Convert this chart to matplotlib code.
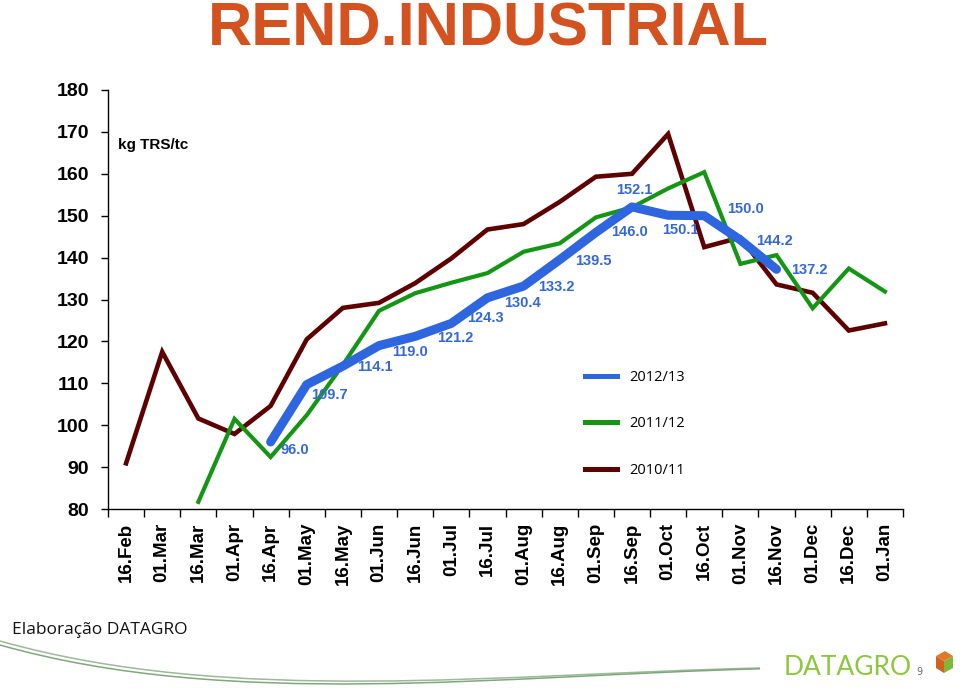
import numpy as np
import matplotlib
matplotlib.use('Agg')
import matplotlib.pyplot as plt
from matplotlib.lines import Line2D
from matplotlib.path import Path
from matplotlib.patches import PathPatch, Polygon

# categories (fortnights of the season)
periods = ['16.Feb', '01.Mar', '16.Mar', '01.Apr', '16.Apr', '01.May', '16.May',
           '01.Jun', '16.Jun', '01.Jul', '16.Jul', '01.Aug', '16.Aug', '01.Sep',
           '16.Sep', '01.Oct', '16.Oct', '01.Nov', '16.Nov', '01.Dec', '16.Dec', '01.Jan']

# 2012/13 starts at 16.Apr
s2012 = [96.0, 109.7, 114.1, 119.0, 121.2, 124.3, 130.4, 133.2, 139.5, 146.0,
         152.1, 150.1, 150.0, 144.2, 137.2]
# 2011/12 starts at 16.Mar
s2011 = [81.7, 101.5, 92.4, 102.4, 114.4, 127.3, 131.5, 134.0, 136.3, 141.4,
         143.4, 149.6, 152.0, 156.5, 160.4, 138.5, 140.6, 127.9, 137.4, 131.9]
# 2010/11 starts at 16.Feb
s2010 = [90.9, 117.5, 101.6, 97.9, 104.6, 120.5, 128.0, 129.2, 133.9, 139.8,
         146.7, 148.0, 153.3, 159.3, 160.0, 169.5, 142.5, 144.8, 133.6, 131.6,
         122.6, 124.3]

start_2012 = periods.index('16.Apr')
start_2011 = periods.index('16.Mar')
start_2010 = periods.index('16.Feb')

# label offsets in pixels (dx right, dy down) for the 2012/13 values
label_off = [(10, 8), (4, 10), (14, 1), (13, 6), (22, 2), (16, -5), (17, 5),
             (15, 1), (15, 1), (15, 0), (-16, -17), (-6, 15), (23, -7),
             (16, 1), (15, 1)]

blue = '#2E66E0'
green = '#149614'
maroon = '#5E0000'

W, H = 960, 698
fig = plt.figure(figsize=(W / 100, H / 100), dpi=100)

def fx(px):
    return px / W

def fy(py):
    return 1 - py / H

ax = fig.add_axes([fx(108), fy(509), (903 - 108) / W, (509 - 90) / H])

x2010 = np.arange(start_2010, start_2010 + len(s2010))
x2011 = np.arange(start_2011, start_2011 + len(s2011))
x2012 = np.arange(start_2012, start_2012 + len(s2012))

ax.plot(x2010, s2010, color=maroon, lw=3.3, solid_joinstyle='miter', zorder=2)
ax.plot(x2011, s2011, color=green, lw=3.0, solid_joinstyle='miter', zorder=3)
ax.plot(x2012, s2012, color=blue, lw=6.5, solid_capstyle='round',
        solid_joinstyle='round', zorder=4)

for xi, v, (dx, dy) in zip(x2012, s2012, label_off):
    ax.annotate(f'{v:.1f}', (xi, v), xytext=(dx, -dy), textcoords='offset pixels',
                ha='left', va='center', color='#3468D8', fontsize=10.5,
                fontweight='bold', family='Liberation Sans', zorder=5)

ax.set_xlim(-0.5, len(periods) - 0.5)
ax.set_ylim(80, 180)
ax.set_yticks(np.arange(80, 181, 10))
ax.set_xticks(np.arange(-0.5, len(periods), 1.0))
ax.set_xticklabels([])
ax.set_xticks(np.arange(len(periods)), minor=True)
ax.set_xticklabels(periods, minor=True, rotation=90, fontsize=13.5,
                   fontweight='bold', family='Liberation Sans', va='top')
ax.tick_params(axis='x', which='minor', length=0, pad=10)
ax.tick_params(axis='x', which='major', length=6, width=1, direction='out')
ax.tick_params(axis='y', length=5, width=1, direction='out', pad=8.5)
for t in ax.get_yticklabels():
    t.set_fontsize(14)
    t.set_fontweight('bold')
    t.set_family('Liberation Sans')
for s in ['top', 'right']:
    ax.spines[s].set_visible(False)
for s in ['left', 'bottom']:
    ax.spines[s].set_linewidth(1.0)
ax.patch.set_alpha(0)

ax.text(fx(118), fy(145), 'kg TRS/tc', transform=fig.transFigure, ha='left',
        va='center', fontsize=11, fontweight='bold', family='Liberation Sans')

handles = [Line2D([], [], color=blue, lw=3.6),
           Line2D([], [], color=green, lw=3.6),
           Line2D([], [], color=maroon, lw=3.6)]
fig.legend(handles, ['2012/13', '2011/12', '2010/11'], loc='upper left',
           bbox_to_anchor=(fx(585), fy(370)), frameon=False, borderpad=0,
           borderaxespad=0, handlelength=2.2, handletextpad=0.8,
           labelspacing=2.15, prop={'family': 'Open Sans', 'size': 10.5})

# title
fig.text(fx(488), fy(45), 'REND.INDUSTRIAL', ha='center', va='baseline',
         fontsize=44, fontweight='bold', color='#D4521F', family='Liberation Sans')

# footer
fig.text(fx(12), fy(630), 'Elaboração DATAGRO', ha='left', va='center',
         fontsize=12.5, family='Open Sans', color='#111111')

# decorative swoosh
for off, col in [(0, '#9DB89A'), (4, '#7FA87A')]:
    verts = [(fx(0), fy(641 + off)), (fx(230), fy(706 + off)),
             (fx(500), fy(674 + off * 0.4)), (fx(760), fy(668 + off * 0.2))]
    p = Path(verts, [Path.MOVETO, Path.CURVE4, Path.CURVE4, Path.CURVE4])
    fig.add_artist(PathPatch(p, fill=False, edgecolor=col, lw=1.1,
                             transform=fig.transFigure))

# logo
fig.text(fx(784), fy(675), 'DATAGRO', ha='left', va='baseline', fontsize=19,
         family='Lato', color='#8DC63F')
fig.text(fx(916), fy(675), '9', ha='left', va='baseline', fontsize=7,
         color='#666666')
cube_l = [(936, 656), (944, 661), (944, 673), (936, 668)]
cube_r = [(944, 661), (953, 656), (953, 668), (944, 673)]
cube_t = [(936, 656), (945, 651), (953, 656), (944, 661)]
for pts, col in [(cube_l, '#D2601E'), (cube_r, '#7DB83A'), (cube_t, '#E07A2A')]:
    fig.add_artist(Polygon([(fx(a), fy(b)) for a, b in pts], closed=True,
                           facecolor=col, edgecolor='none',
                           transform=fig.transFigure))

fig.savefig('out.png', dpi=100)
